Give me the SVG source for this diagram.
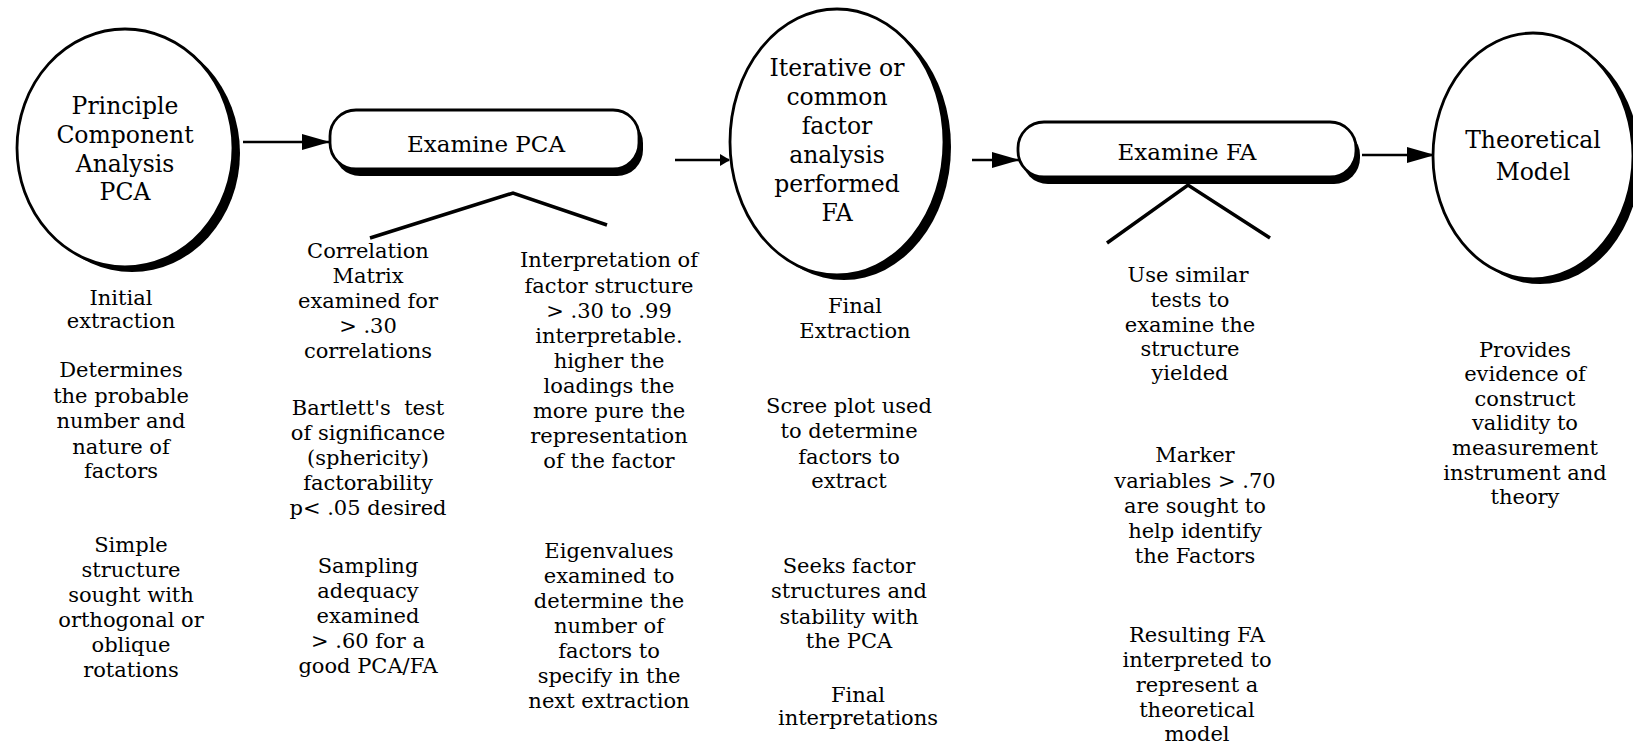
<svg xmlns="http://www.w3.org/2000/svg" width="1633" height="746" viewBox="0 0 1633 746">
<defs>
<style>
.bg{fill:#fff}
.shadow{fill:#000}
.shape{fill:#fff;stroke:#000;stroke-width:2.8}
.conn{stroke:#000;stroke-width:2.5;fill:none}
.caret{stroke:#000;stroke-width:3.5;fill:none;stroke-linejoin:miter}
.t{font-family:"DejaVu Serif","Liberation Serif",serif;fill:#000;text-anchor:middle}
.big{font-size:23.5px}
.box{font-size:23px}
.body{font-size:21px}
</style>
<marker id="arr" viewBox="0 0 28 16" refX="27" refY="8" markerWidth="28" markerHeight="16" markerUnits="userSpaceOnUse" orient="auto">
<path d="M0,0 L28,8 L0,16 Z" fill="#000"/>
</marker>
<marker id="arrS" viewBox="0 0 10 12" refX="9" refY="6" markerWidth="10" markerHeight="12" markerUnits="userSpaceOnUse" orient="auto">
<path d="M0,0 L10,6 L0,12 Z" fill="#000"/>
</marker>
</defs>
<rect class="bg" x="0" y="0" width="1633" height="746"/>

<g id="connectors">
<line class="conn" x1="243" y1="142" x2="329" y2="142" marker-end="url(#arr)"/>
<line class="conn" x1="675" y1="160" x2="729" y2="160" marker-end="url(#arrS)"/>
<line class="conn" x1="972" y1="160" x2="1019" y2="160" marker-end="url(#arr)"/>
<line class="conn" x1="1362" y1="155" x2="1434" y2="155" marker-end="url(#arr)"/>
<polyline class="caret" points="370,238 513,193 607,225"/>
<polyline class="caret" points="1107,243 1188,185 1270,238"/>
</g>

<g id="pca">
<ellipse class="shadow" cx="132" cy="153" rx="108" ry="119"/>
<ellipse class="shape" cx="125" cy="148" rx="108" ry="119"/>
<text class="t big"><tspan x="125" y="114">Principle</tspan><tspan x="125" y="143">Component</tspan><tspan x="125" y="172">Analysis</tspan><tspan x="125" y="200">PCA</tspan></text>
</g>

<g id="examine-pca">
<rect class="shadow" x="334" y="117" width="309" height="59" rx="26"/>
<rect class="shape" x="330" y="110" width="309" height="59" rx="26"/>
<text class="t box" x="486" y="152">Examine PCA</text>
</g>

<g id="fa">
<ellipse class="shadow" cx="844" cy="147" rx="107" ry="133"/>
<ellipse class="shape" cx="837" cy="142" rx="107" ry="133"/>
<text class="t big"><tspan x="837" y="76">Iterative or</tspan><tspan x="837" y="105">common</tspan><tspan x="837" y="134">factor</tspan><tspan x="837" y="163">analysis</tspan><tspan x="837" y="192">performed</tspan><tspan x="837" y="221">FA</tspan></text>
</g>

<g id="examine-fa">
<rect class="shadow" x="1022" y="129" width="338" height="55" rx="26"/>
<rect class="shape" x="1018" y="122" width="338" height="55" rx="26"/>
<text class="t box" x="1187" y="160">Examine FA</text>
</g>

<g id="theoretical-model">
<ellipse class="shadow" cx="1540" cy="161" rx="100" ry="123"/>
<ellipse class="shape" cx="1533" cy="156" rx="100" ry="123"/>
<text class="t big"><tspan x="1533" y="148">Theoretical</tspan><tspan x="1533" y="180">Model</tspan></text>
</g>

<g id="notes-pca">
<text class="t body"><tspan x="121" y="305">Initial</tspan><tspan x="121" y="328">extraction</tspan><tspan x="121" y="377">Determines</tspan><tspan x="121" y="403">the probable</tspan><tspan x="121" y="428">number and</tspan><tspan x="121" y="454">nature of</tspan><tspan x="121" y="478">factors</tspan></text>
<text class="t body"><tspan x="131" y="552">Simple</tspan><tspan x="131" y="577">structure</tspan><tspan x="131" y="602">sought with</tspan><tspan x="131" y="627">orthogonal or</tspan><tspan x="131" y="652">oblique</tspan><tspan x="131" y="677">rotations</tspan></text>
</g>

<g id="notes-correlation">
<text class="t body"><tspan x="368" y="258">Correlation</tspan><tspan x="368" y="283">Matrix</tspan><tspan x="368" y="308">examined for</tspan><tspan x="368" y="333">&gt; .30</tspan><tspan x="368" y="358">correlations</tspan></text>
<text class="t body"><tspan x="368" y="415">Bartlett's&#160; test</tspan><tspan x="368" y="440">of significance</tspan><tspan x="368" y="465">(sphericity)</tspan><tspan x="368" y="490">factorability</tspan><tspan x="368" y="515">p&lt; .05 desired</tspan></text>
<text class="t body"><tspan x="368" y="573">Sampling</tspan><tspan x="368" y="598">adequacy</tspan><tspan x="368" y="623">examined</tspan><tspan x="368" y="648">&gt; .60 for a</tspan><tspan x="368" y="673">good PCA/FA</tspan></text>
</g>

<g id="notes-interpretation">
<text class="t body"><tspan x="609" y="267">Interpretation of</tspan><tspan x="609" y="293">factor structure</tspan><tspan x="609" y="318">&gt; .30 to .99</tspan><tspan x="609" y="343">interpretable.</tspan><tspan x="609" y="368">higher the</tspan><tspan x="609" y="393">loadings the</tspan><tspan x="609" y="418">more pure the</tspan><tspan x="609" y="443">representation</tspan><tspan x="609" y="468">of the factor</tspan></text>
<text class="t body"><tspan x="609" y="558">Eigenvalues</tspan><tspan x="609" y="583">examined to</tspan><tspan x="609" y="608">determine the</tspan><tspan x="609" y="633">number of</tspan><tspan x="609" y="658">factors to</tspan><tspan x="609" y="683">specify in the</tspan><tspan x="609" y="708">next extraction</tspan></text>
</g>

<g id="notes-fa">
<text class="t body"><tspan x="855" y="313">Final</tspan><tspan x="855" y="338">Extraction</tspan></text>
<text class="t body"><tspan x="849" y="413">Scree plot used</tspan><tspan x="849" y="438">to determine</tspan><tspan x="849" y="464">factors to</tspan><tspan x="849" y="488">extract</tspan></text>
<text class="t body"><tspan x="849" y="573">Seeks factor</tspan><tspan x="849" y="598">structures and</tspan><tspan x="849" y="624">stability with</tspan><tspan x="849" y="648">the PCA</tspan></text>
<text class="t body"><tspan x="858" y="702">Final</tspan><tspan x="858" y="725">interpretations</tspan></text>
</g>

<g id="notes-examine-fa">
<text class="t body"><tspan x="1188" y="282">Use similar</tspan><tspan x="1190" y="307">tests to</tspan><tspan x="1190" y="332">examine the</tspan><tspan x="1190" y="356">structure</tspan><tspan x="1190" y="380">yielded</tspan></text>
<text class="t body"><tspan x="1195" y="462">Marker</tspan><tspan x="1195" y="488">variables &gt; .70</tspan><tspan x="1195" y="513">are sought to</tspan><tspan x="1195" y="538">help identify</tspan><tspan x="1195" y="563">the Factors</tspan></text>
<text class="t body"><tspan x="1197" y="642">Resulting FA</tspan><tspan x="1197" y="667">interpreted to</tspan><tspan x="1197" y="692">represent a</tspan><tspan x="1197" y="717">theoretical</tspan><tspan x="1197" y="741">model</tspan></text>
</g>

<g id="notes-theory">
<text class="t body"><tspan x="1525" y="357">Provides</tspan><tspan x="1525" y="381">evidence of</tspan><tspan x="1525" y="406">construct</tspan><tspan x="1525" y="430">validity to</tspan><tspan x="1525" y="455">measurement</tspan><tspan x="1525" y="480">instrument and</tspan><tspan x="1525" y="504">theory</tspan></text>
</g>
</svg>
